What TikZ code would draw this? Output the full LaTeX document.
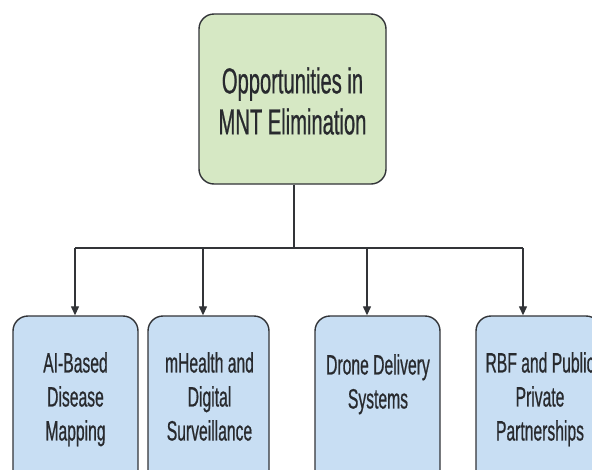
\documentclass[tikz,border=0pt]{standalone}
\usepackage{fontspec}
\setmainfont{Liberation Sans}[FakeStretch=0.56,FakeBold=0.6]
\usetikzlibrary{arrows.meta}
\definecolor{topfill}{RGB}{214,232,196}
\definecolor{botfill}{RGB}{200,222,243}
\definecolor{edge}{RGB}{50,52,56}
\definecolor{txt}{RGB}{40,42,46}
\begin{document}
\begin{tikzpicture}[x=1pt,y=-1pt,
 box/.style={draw=edge, line width=1.4pt, rounded corners=15pt, inner sep=0pt},
 botbox/.style={box, fill=botfill, minimum height=200pt},
 lbl/.style={text=txt, align=center, font=\fontsize{28}{34}\selectfont, inner sep=0pt, anchor=north},
 conn/.style={draw=edge, line width=1.3pt},
 arr/.style={conn, -{Triangle[length=9pt,width=8pt]}}]
\useasboundingbox (0,0) rectangle (592,469);
\clip (0,0) rectangle (592,469);
\fill[white] (0,0) rectangle (592,469);
% top box
\node[box, fill=topfill, minimum width=187pt, minimum height=170pt] (top) at (292.5,99) {};
\node[text=txt, align=center, font=\fontsize{36}{41}\selectfont, inner sep=0pt] (toptxt) at (292.5,101) {Opportunities in\\MNT Elimination};
% bottom boxes
\node[botbox, minimum width=125pt] (b1) at (75.5,416) {};
\node[botbox, minimum width=121pt] (b2) at (208.5,416) {};
\node[botbox, minimum width=125pt] (b3) at (377.5,416) {};
\node[botbox, minimum width=125pt] (b4) at (538.5,416) {};
\node[lbl] (t1) at (75.5,352) {AI-Based\\Disease\\Mapping};
\node[lbl] (t2) at (209.5,352) {mHealth and\\Digital\\Surveillance};
\node[lbl] (t3) at (378,354) {Drone Delivery\\Systems};
\node[lbl] (t4) at (540,352) {RBF and Public\\Private\\Partnerships};
% connectors
\coordinate (hub) at (294,248);
\coordinate (j1) at (75,248);
\coordinate (j2) at (203,248);
\coordinate (j3) at (367,248);
\coordinate (j4) at (523,248);
\draw[conn] (top.south -| hub) -- (hub);
\draw[conn, line width=1.8pt] (j1) -- (j4);
\draw[arr] (j1) -- (j1 |- b1.north);
\draw[arr] (j2) -- (j2 |- b2.north);
\draw[arr] (j3) -- (j3 |- b3.north);
\draw[arr] (j4) -- (j4 |- b4.north);
\end{tikzpicture}
\end{document}
